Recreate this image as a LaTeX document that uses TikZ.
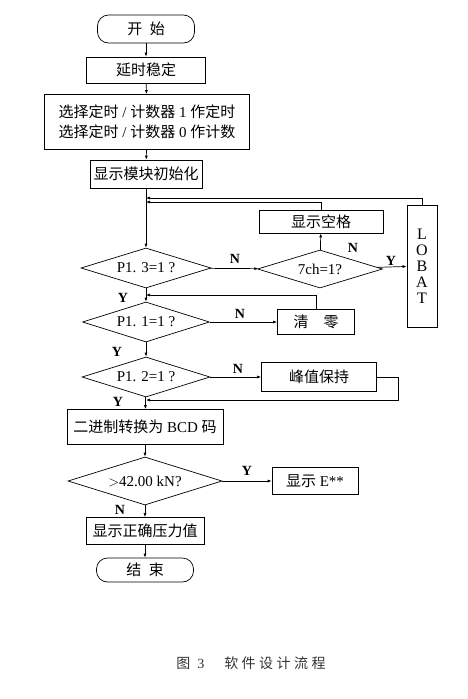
\documentclass[tikz,border=0pt]{standalone}
\usepackage{fontspec}
\setmainfont{Liberation Serif}
\newfontfamily\cjk{Noto Sans CJK SC}
\usetikzlibrary{shapes.geometric,arrows.meta}

\begin{document}
\begin{tikzpicture}[x=1pt,y=-1pt,line width=.7pt,
	every node/.style={font=\fontsize{15}{17}\selectfont},
	proc/.style={draw,rectangle,inner sep=1pt},
	term/.style={draw,rectangle,rounded corners=11pt,inner sep=1pt},
	test/.style={draw,diamond,aspect=3,inner sep=0pt},
	arr/.style={-{Latex[length=4pt,width=3pt]}},
	lab/.style={font=\fontsize{14}{16}\selectfont\bfseries}]
	\useasboundingbox (0,0) rectangle (467,699);
	\node[term,minimum width=97,minimum height=28] (start) at (146,29) {\cjk 开\hspace{.5em}始};
	\node[proc,minimum width=119,minimum height=26] (delay) at (146,70) {\cjk 延时稳定};
	\node[proc,minimum width=205,minimum height=55,align=center,font=\fontsize{15}{20}\selectfont] (sel) at (147,122) {{\cjk 选择定时} / {\cjk 计数器} 1 {\cjk 作定时}\\{\cjk 选择定时} / {\cjk 计数器} 0 {\cjk 作计数}};
	\node[proc,minimum width=112,minimum height=28] (init) at (146,174) {\cjk 显示模块初始化};
	\node[test,minimum width=130,minimum height=40] (p13) at (146,268) {P1. 3=1 ?};
	\node[test,minimum width=125,minimum height=38] (ch7) at (320,269) {7ch=1?};
	\node[proc,minimum width=124,minimum height=23] (blank) at (321,221.5) {\cjk 显示空格};
	\node[proc,minimum width=30,minimum height=122,align=center,font=\fontsize{16}{16}\selectfont] (lobat) at (422,266) {L\\O\\B\\A\\T};
	\node[test,minimum width=127,minimum height=40] (p11) at (146,322) {P1. 1=1 ?};
	\node[proc,minimum width=77,minimum height=25] (clear) at (316,322) {\cjk 清\hspace{1em}零};
	\node[test,minimum width=128,minimum height=40] (p12) at (146,377) {P1. 2=1 ?};
	\node[proc,minimum width=115,minimum height=29] (peak) at (319,377) {\cjk 峰值保持};
	\node[proc,minimum width=156,minimum height=35] (bcd) at (145,427) {{\cjk 二进制转换为} BCD {\cjk 码}};
	\node[test,minimum width=154,minimum height=48] (gt) at (145,481) {$>$42.00 kN?};
	\node[proc,minimum width=86,minimum height=27] (err) at (315,481) {{\cjk 显示} E**};
	\node[proc,minimum width=118,minimum height=27] (show) at (145,531) {\cjk 显示正确压力值};
	\node[term,minimum width=97,minimum height=24] (end) at (145,570) {\cjk 结\hspace{.5em}束};
	\node[font=\fontsize{14}{16}\selectfont,text=black!80] (cap) at (251,663) {{\cjk 图}\hspace{7pt}3\hspace{20pt}{\cjk 软\hspace{3.5pt}件\hspace{3.5pt}设\hspace{3.5pt}计\hspace{3.5pt}流\hspace{3.5pt}程}};
	\node[lab] (n1) at (235,259) {N};
	\node[lab] (n2) at (353,248) {N};
	\node[lab] (y2) at (391,261) {Y};
	\node[lab] (y1) at (123,298) {Y};
	\node[lab] (n3) at (240,314) {N};
	\node[lab] (y3) at (117,352) {Y};
	\node[lab] (n4) at (238,369) {N};
	\node[lab] (y4) at (118,402) {Y};
	\node[lab] (y5) at (247,471) {Y};
	\node[lab] (n5) at (120,510) {N};
	\coordinate (m0) at (146,198);
	\coordinate (m1) at (146,202);
	\coordinate (m2) at (146,295);
	\coordinate (m3) at (146,400);
	\draw[arr] (start) -- (delay);
	\draw[arr] (delay) -- (sel);
	\draw[arr] (sel) -- (init);
	\draw[arr] (init) -- (p13);
	\draw[arr] (p13) -- (ch7);
	\draw[arr] (ch7) -- (blank);
	\draw[arr] (ch7) -- (lobat);
	\draw[arr] (blank.north) |- (m1);
	\draw[arr] (lobat.north) |- (m0);
	\draw[arr] (p13) -- (p11);
	\draw[arr] (p11) -- (clear);
	\draw[arr] (clear.north) |- (m2);
	\draw[arr] (p11) -- (p12);
	\draw[arr] (p12) -- (peak);
	\draw[arr] (peak.east) -- ++(21,0) |- (m3);
	\draw[arr] (p12) -- (bcd);
	\draw[arr] (bcd) -- (gt);
	\draw[arr] (gt) -- (err);
	\draw[arr] (gt) -- (show);
	\draw[arr] (show) -- (end);
\end{tikzpicture}
\end{document}
